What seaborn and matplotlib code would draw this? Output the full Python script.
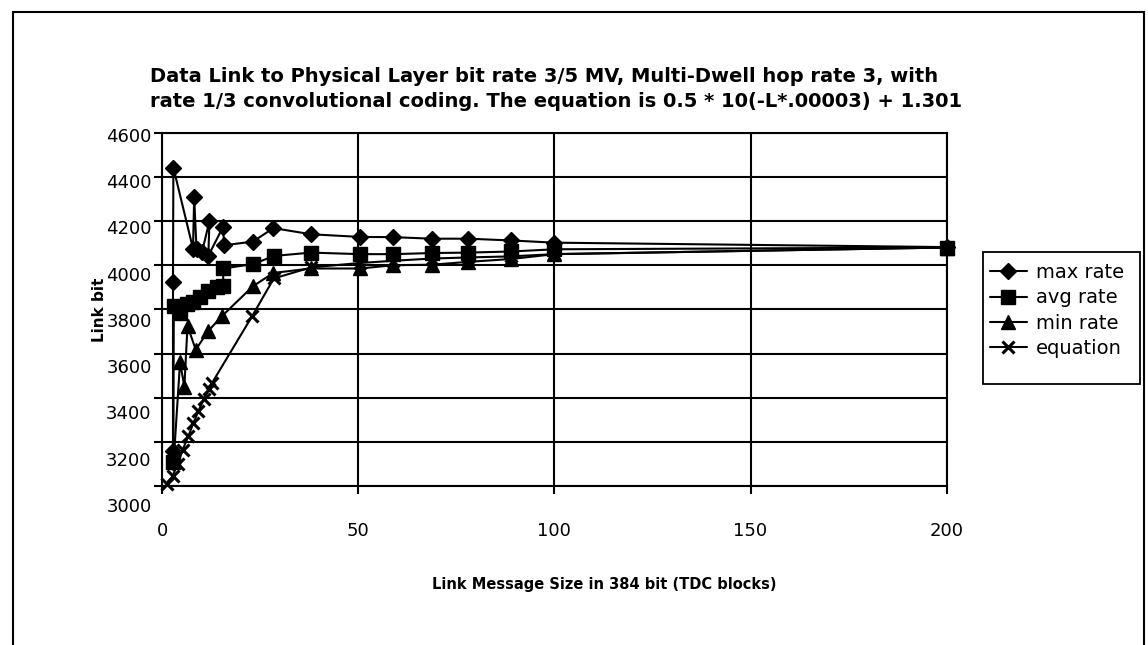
import pandas as pd
import seaborn as sns
import matplotlib.pyplot as plt
from matplotlib.patches import Rectangle
from matplotlib.transforms import ScaledTranslation

# message size (TDC blocks) and link bit rate
max_x = [2.8, 2.8, 2.9, 7.9, 8.2, 8.8, 10.2, 12.1, 11.8, 15.6, 15.8, 23.2, 28.4, 38, 50.5, 59, 68.7, 78, 89, 100, 200]
max_y = [3160, 3925, 4442, 4075, 4307, 4072, 4060, 4200, 4042, 4175, 4090, 4107, 4168, 4140, 4128, 4127, 4120, 4120, 4112, 4102, 4082]

avg_x = [2.9, 3.0, 4.6, 6.3, 8.0, 9.7, 11.8, 13.9, 15.6, 15.6, 23.2, 28.6, 38, 50.5, 59, 68.7, 78, 89, 100, 200]
avg_y = [3110, 3815, 3785, 3822, 3832, 3855, 3885, 3900, 3905, 3985, 4005, 4042, 4057, 4050, 4050, 4055, 4057, 4062, 4072, 4080]

min_x = [3.0, 4.6, 5.7, 6.5, 8.6, 11.7, 15.2, 23.2, 28.4, 38, 50.5, 59, 68.7, 78, 89, 100, 200]
min_y = [3120, 3560, 3450, 3725, 3617, 3700, 3768, 3905, 3965, 3985, 3985, 4000, 4002, 4015, 4028, 4050, 4080]

eq_x = [1.3, 2.7, 4.0, 5.3, 6.7, 8.0, 9.3, 10.7, 12.0, 12.7, 23.0, 28.5, 38, 50.5, 59, 68.7, 78, 89, 100, 200]
eq_y = [3010, 3045, 3100, 3165, 3225, 3285, 3340, 3395, 3440, 3465, 3770, 3940, 3990, 4010, 4020, 4030, 4035, 4040, 4050, 4080]

title = ("Data Link to Physical Layer bit rate 3/5 MV, Multi-Dwell hop rate 3, with\n"
         "rate 1/3 convolutional coding. The equation is 0.5 * 10(-L*.00003) + 1.301")

sns.set_style("white")
plt.rcParams['font.family'] = ['DejaVu Sans']
plt.rcParams['text.color'] = 'black'
plt.rcParams['axes.labelcolor'] = 'black'
plt.rcParams['xtick.color'] = 'black'
plt.rcParams['ytick.color'] = 'black'

fig = plt.figure(figsize=(11.48, 6.45), dpi=100)
ax = fig.add_axes([162/1148, 1-486/645, 784.7/1148, 353.3/645])

series = [
    ("max rate", max_x, max_y, "D", 8, 1),
    ("avg rate", avg_x, avg_y, "s", 9.5, 1),
    ("min rate", min_x, min_y, "^", 10, 1),
    ("equation", eq_x, eq_y, "x", 9, 2.2),
]
for name, xs, ys, mk, ms, mew in series:
    sns.lineplot(x=xs, y=ys, ax=ax, sort=False, estimator=None, color="black",
                 linewidth=1.5, marker=mk, markersize=ms, markeredgewidth=mew,
                 markeredgecolor="black", markerfacecolor="black", label=name,
                 clip_on=False)

ax.set_xlim(0, 200)
ax.set_ylim(3000, 4600)
ax.set_xticks([0, 50, 100, 150, 200])
ax.set_yticks(range(3000, 4601, 200))
ax.grid(True, color="black", linewidth=1.5)
for s in ax.spines.values():
    s.set_color("black")
    s.set_linewidth(1.5)
ax.tick_params(axis="both", direction="out", length=6, width=1.5, color="black",
               labelcolor="black", labelsize=13, pad=1.5, bottom=True, left=True)
ax.tick_params(axis="x", pad=20)

# y labels in the original drift slightly downward from their grid lines
for t in ax.yaxis.get_major_ticks():
    v = t.get_loc()
    dy = (4600 - v) / 200 * 2.1
    t.label1.set_transform(t.label1.get_transform() +
                           ScaledTranslation(0, -dy / 100, fig.dpi_scale_trans))

ax.set_xlabel("Link Message Size in 384 bit (TDC blocks)", fontsize=10.5, fontweight="bold")
ax.xaxis.set_label_coords(0.564, -0.257)
ax.set_ylabel("Link bit", fontsize=11, fontweight="bold")
ax.yaxis.set_label_coords(-0.070, 0.5)

fig.text(150/1148, 1-89/645, title, ha="left", va="center", fontsize=14, fontweight="bold",
         linespacing=1.35, color="black")

leg = ax.legend(loc="upper left", bbox_to_anchor=(990/1148, 1-263/645),
                bbox_transform=fig.transFigure, fontsize=14, frameon=False,
                handlelength=1.9, handletextpad=0.45, labelspacing=0.33,
                borderpad=0, borderaxespad=0)
for txt in leg.get_texts():
    txt.set_color("black")

# legend frame and outer chart border
fig.patches.append(Rectangle((983/1148, 1-384/645), 157/1148, 132/645,
                             transform=fig.transFigure, fill=False,
                             edgecolor="black", linewidth=1.3))
fig.patches.append(Rectangle((13/1148, -0.1), 1131/1148, 1.1 - 12/645,
                             transform=fig.transFigure, fill=False,
                             edgecolor="black", linewidth=1.5))

fig.savefig("out.png", dpi=100)
